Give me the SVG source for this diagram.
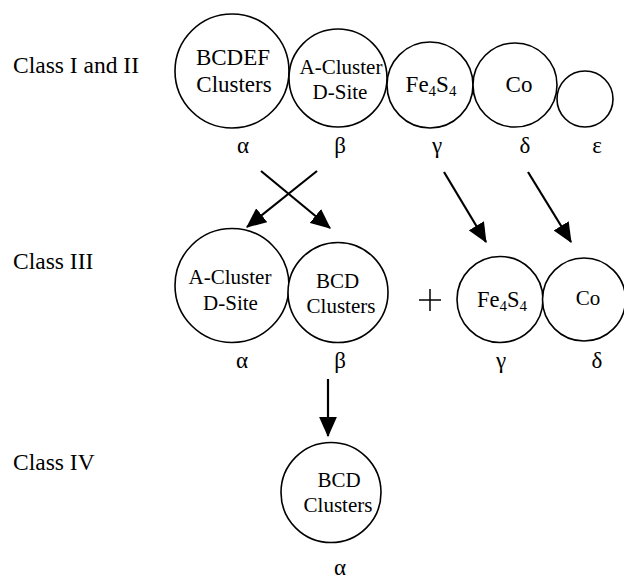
<svg xmlns="http://www.w3.org/2000/svg" width="624" height="579" viewBox="0 0 624 579">
<style>
  .lbl { font-size: 23.5px; }
  .n23 { font-size: 23px; text-anchor: middle; }
  .n21 { font-size: 21px; text-anchor: middle; }
  .gr { font-size: 23px; text-anchor: middle; }
  .sub { font-size: 15px; }
  circle { fill: #fff; stroke: #000; stroke-width: 1.6; }
  .conn line { stroke: #000; stroke-width: 2.2; marker-end: url(#ah); }
</style>
<defs>
  <marker id="ah" markerUnits="userSpaceOnUse" markerWidth="20" markerHeight="18" viewBox="0 0 18 16" refX="17" refY="8" orient="auto">
    <path d="M0,0 L18,8 L0,16 Z" fill="#000"/>
  </marker>
</defs>

<g font-family="Liberation Serif, serif" fill="#000">
<g id="class-labels">
  <text class="lbl" x="13" y="73">Class I and II</text>
  <text class="lbl" x="13" y="269">Class III</text>
  <text class="lbl" x="13" y="470">Class IV</text>
</g>

<!-- Row 1 -->
<g id="r1-alpha">
  <circle cx="232" cy="71" r="57"/>
  <text class="n23" x="233" y="65">BCDEF</text>
  <text class="n23" x="234" y="92">Clusters</text>
  <text class="gr" x="243" y="153">α</text>
</g>
<g id="r1-beta">
  <circle cx="338" cy="78" r="49"/>
  <text class="n21" x="341" y="74">A-Cluster</text>
  <text class="n21" x="340" y="99">D-Site</text>
  <text class="gr" x="340" y="153">β</text>
</g>
<g id="r1-gamma">
  <circle cx="430" cy="85" r="43"/>
  <text class="n23" x="431" y="92">Fe<tspan class="sub" dy="4">4</tspan><tspan dy="-4">S</tspan><tspan class="sub" dy="4">4</tspan></text>
  <text class="gr" x="437" y="153">γ</text>
</g>
<g id="r1-delta">
  <circle cx="515" cy="85" r="42"/>
  <text class="n23" x="519" y="92">Co</text>
  <text class="gr" x="525" y="153">δ</text>
</g>
<g id="r1-epsilon">
  <circle cx="585" cy="99" r="28"/>
  <text class="gr" x="597" y="153">ε</text>
</g>

<!-- Row 2 -->
<g id="r2-alpha">
  <circle cx="232" cy="285.5" r="57"/>
  <text class="n21" x="230" y="284">A-Cluster</text>
  <text class="n21" x="230.5" y="310">D-Site</text>
  <text class="gr" x="242" y="368">α</text>
</g>
<g id="r2-beta">
  <circle cx="338" cy="292.5" r="50"/>
  <text class="n21" x="337.5" y="288">BCD</text>
  <text class="n21" x="341" y="313">Clusters</text>
  <text class="gr" x="340" y="368">β</text>
</g>
<g id="plus">
  <line x1="419" y1="300" x2="441" y2="300" stroke="#000" stroke-width="1.5"/>
  <line x1="430" y1="289" x2="430" y2="311" stroke="#000" stroke-width="1.5"/>
</g>
<g id="r2-gamma">
  <circle cx="500" cy="299.5" r="43"/>
  <text class="n21" x="502" y="307" style="font-size:22.5px">Fe<tspan class="sub" dy="4">4</tspan><tspan dy="-4">S</tspan><tspan class="sub" dy="4">4</tspan></text>
  <text class="gr" x="501" y="368">γ</text>
</g>
<g id="r2-delta">
  <circle cx="584" cy="299.5" r="41.5"/>
  <text class="n21" x="588" y="305">Co</text>
  <text class="gr" x="597" y="368">δ</text>
</g>

<!-- Row 3 -->
<g id="r3-alpha">
  <circle cx="331" cy="492.5" r="50"/>
  <text class="n21" x="339" y="487">BCD</text>
  <text class="n21" x="338" y="512">Clusters</text>
  <text class="gr" x="340" y="575">α</text>
</g>
</g>

<g id="connectors" class="conn">
  <line x1="261" y1="171" x2="330" y2="228"/>
  <line x1="317" y1="171" x2="247" y2="227"/>
  <line x1="444" y1="172" x2="486" y2="242"/>
  <line x1="528" y1="172" x2="571" y2="242"/>
  <line x1="328" y1="379" x2="328" y2="436"/>
</g>
</svg>
